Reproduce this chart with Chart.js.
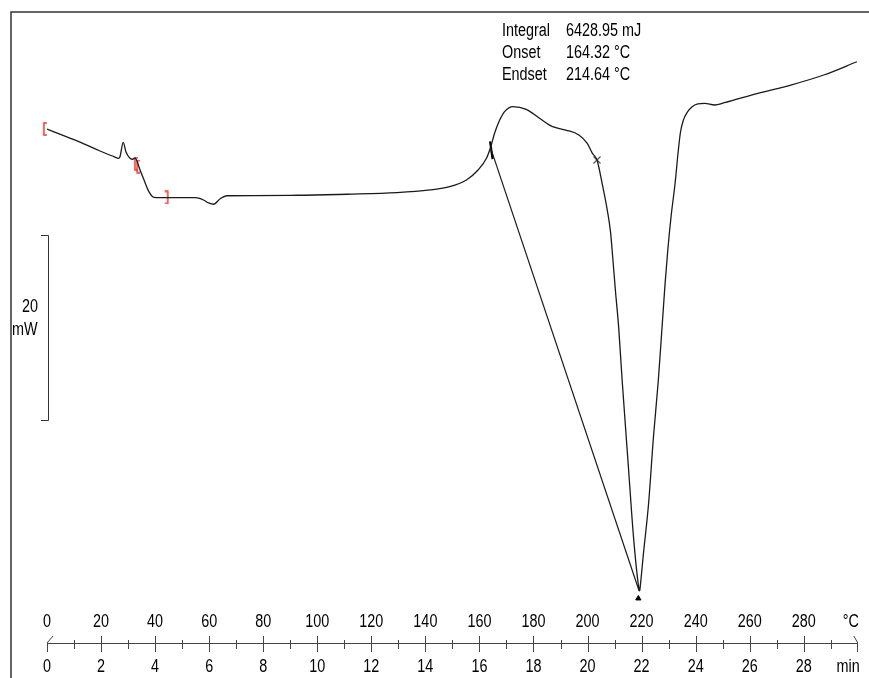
<!DOCTYPE html>
<html>
<head>
<meta charset="utf-8">
<script src="https://cdn.jsdelivr.net/npm/chart.js@4/dist/chart.umd.min.js"></script>
<style>
  body { margin: 0; background: #fff; }
  #dsc { display: block; }
</style>
</head>
<body>
<canvas id="dsc" width="869" height="678"></canvas>
<script>
// DSC run, heat flow vs time (min), 10 °C/min so temperature = 10 x time
var timeMin = [0.0, 0.71, 1.32, 1.94, 2.42, 2.64, 2.70, 2.82, 2.92, 3.04, 3.16, 3.26, 3.34, 3.40,
  3.59, 3.77, 3.96, 4.39, 5.49, 5.79, 5.98, 6.16, 6.41, 6.65, 9.28, 11.12, 12.95, 14.17,
  14.90, 15.52, 15.95, 16.26, 16.42, 16.56, 16.75, 16.93, 17.24, 17.73, 18.22, 18.71,
  19.20, 19.68, 19.99, 20.18, 20.35, 20.54, 20.73, 20.85, 20.93, 21.03, 21.15, 21.28,
  21.52, 21.70, 21.89, 21.93, 21.95, 22.07, 22.26, 22.44, 22.62, 22.75, 22.87, 22.97,
  23.09, 23.24, 23.36, 23.44, 23.55, 23.70, 23.86, 24.08, 24.34, 24.70, 25.07, 26.30,
  27.52, 28.74, 29.97];
var heatFlow = [-6.61, -7.44, -8.15, -8.95, -9.52, -9.77, -9.59, -8.04, -9.05, -9.66, -9.87, -9.73, -10.13, -10.67,
  -12.10, -13.36, -13.97, -14.01, -14.01, -14.26, -14.58, -14.72, -14.12, -13.80, -13.75, -13.64, -13.47, -13.18,
  -12.83, -12.10, -11.03, -9.77, -8.52, -7.07, -5.64, -4.74, -4.20, -4.49, -5.45, -6.36,
  -6.72, -7.25, -8.15, -9.23, -9.95, -12.46, -15.34, -17.69, -20.37, -23.96, -27.91, -33.66,
  -43.35, -50.54, -55.93, -56.39, -55.93, -52.33, -46.94, -39.77, -33.66, -28.27, -23.24, -19.65,
  -16.06, -12.46, -8.87, -6.93, -5.63, -4.77, -4.23, -3.90, -3.84, -4.02, -3.77, -2.76,
  -1.87, -0.79, 0.64];

// integration baseline from onset to peak
var baselineTime = [16.42, 21.91];
var baselineFlow = [-8.7, -56.4];

// evaluation limit marks
var limitTime = [-0.08, 3.29, 3.37, 4.43];
var limitFlow = [-6.61, -10.35, -10.65, -13.99];

var onsetPoint = { x: 16.44, y: -8.9 };
var endsetPoint = { x: 20.35, y: -9.95 };
var peakPoint = { x: 21.88, y: -57.2 };

var minTicks = [0, 2, 4, 6, 8, 10, 12, 14, 16, 18, 20, 22, 24, 26, 28];
var tempTicks = ['0', '20', '40', '60', '80', '100', '120', '140', '160', '180', '200', '220', '240', '260', '280'];

var resultLabels = ['Integral', 'Onset', 'Endset'];
var resultValues = ['6428.95 mJ', '164.32 °C', '214.64 °C'];

var scaleBarFrom = -18;
var scaleBarTo = -38; // 20 mW

var FONT = "18px 'Liberation Sans', Arial, sans-serif";

function pairs(xs, ys) {
  var out = [];
  for (var i = 0; i < xs.length; i++) out.push({ x: xs[i], y: ys[i] });
  return out;
}

// narrow lettering like the instrument software
function label(ctx, str, x, y, align) {
  ctx.save();
  ctx.translate(x, y);
  ctx.scale(0.8, 1);
  ctx.textAlign = align || 'left';
  ctx.fillText(str, 0, 0);
  ctx.restore();
}

// small red bracket used for the limit marks
function bracket(flip) {
  var c = document.createElement('canvas');
  c.width = 6; c.height = 14;
  var g = c.getContext('2d');
  g.strokeStyle = '#f03a30';
  g.lineWidth = 1.5;
  g.beginPath();
  if (flip) {
    g.moveTo(1, 1); g.lineTo(4, 1); g.lineTo(4, 13); g.lineTo(1, 13);
  } else {
    g.moveTo(5, 1); g.lineTo(2, 1); g.lineTo(2, 13); g.lineTo(5, 13);
  }
  g.stroke();
  return c;
}
var bracketOpen = bracket(false);
var bracketClose = bracket(true);

var dscDecor = {
  id: 'dscDecor',
  afterDraw: function (chart) {
    var ctx = chart.ctx;
    var x = chart.scales.x, y = chart.scales.y;
    var axisY = chart.chartArea.bottom;
    ctx.save();

    // outer frame (left and top)
    ctx.strokeStyle = '#333';
    ctx.lineWidth = 1.5;
    ctx.beginPath();
    ctx.moveTo(11, 678);
    ctx.lineTo(11, 12);
    ctx.lineTo(869, 12);
    ctx.stroke();

    // time / temperature axis
    ctx.strokeStyle = '#444';
    ctx.lineWidth = 1;
    var x0 = x.getPixelForValue(0), x30 = x.getPixelForValue(30);
    ctx.beginPath();
    ctx.moveTo(x0, axisY + 0.5);
    ctx.lineTo(x30, axisY + 0.5);
    for (var m = 1; m < 30; m++) {
      var px = Math.round(x.getPixelForValue(m)) + 0.5;
      if (m % 2 === 0) {
        ctx.moveTo(px, axisY - 7);
        ctx.lineTo(px, axisY + 9);
      } else {
        ctx.moveTo(px, axisY - 3);
        ctx.lineTo(px, axisY + 6);
      }
    }
    // end marks
    ctx.moveTo(Math.round(x0) + 0.5, axisY);
    ctx.lineTo(Math.round(x0) + 0.5, axisY + 9);
    ctx.moveTo(x0, axisY);
    ctx.lineTo(x0 + 6, axisY - 7);
    ctx.moveTo(Math.round(x30) - 0.5, axisY);
    ctx.lineTo(Math.round(x30) - 0.5, axisY + 9);
    ctx.moveTo(x30, axisY);
    ctx.lineTo(x30 - 4, axisY - 7);
    ctx.stroke();

    ctx.fillStyle = '#000';
    ctx.font = FONT;
    ctx.textBaseline = 'middle';
    for (var i = 0; i < minTicks.length; i++) {
      var tx = x.getPixelForValue(minTicks[i]);
      label(ctx, tempTicks[i], tx, axisY - 21, 'center');
      label(ctx, String(minTicks[i]), tx, axisY + 24, 'center');
    }
    label(ctx, '°C', x30 + 1, axisY - 21, 'right');
    label(ctx, 'min', x30 + 2, axisY + 24, 'right');

    // 20 mW scale bar
    var yTop = Math.round(y.getPixelForValue(scaleBarFrom)) + 0.5;
    var yBot = Math.round(y.getPixelForValue(scaleBarTo)) + 0.5;
    ctx.strokeStyle = '#333';
    ctx.beginPath();
    ctx.moveTo(41, yTop);
    ctx.lineTo(48.5, yTop);
    ctx.lineTo(48.5, yBot);
    ctx.lineTo(41, yBot);
    ctx.stroke();
    label(ctx, '20', 30, yTop + 72, 'center');
    label(ctx, 'mW', 12, yTop + 95, 'left');

    // peak evaluation results
    for (var r = 0; r < resultLabels.length; r++) {
      label(ctx, resultLabels[r], 502, 31 + r * 22, 'left');
      label(ctx, resultValues[r], 566, 31 + r * 22, 'left');
    }
    ctx.restore();
  }
};

var ctx = document.getElementById('dsc');
var dscChart = new Chart(ctx, {
  type: 'line',
  data: {
    datasets: [{
      label: 'Heat flow',
      data: pairs(timeMin, heatFlow),
      borderColor: '#1a1a1a',
      borderWidth: 1.3,
      pointRadius: 0,
      cubicInterpolationMode: 'monotone'
    }, {
      label: 'Baseline',
      data: pairs(baselineTime, baselineFlow),
      borderColor: '#1a1a1a',
      borderWidth: 1.2,
      pointRadius: 0
    }, {
      label: 'Limits',
      data: pairs(limitTime, limitFlow),
      showLine: false,
      pointStyle: [bracketOpen, bracketOpen, bracketOpen, bracketClose],
      pointRadius: 7,
      clip: false
    }, {
      label: 'Onset',
      data: [onsetPoint],
      showLine: false,
      pointStyle: 'line',
      rotation: 82,
      pointRadius: 9,
      borderColor: '#000',
      borderWidth: 2.2
    }, {
      label: 'Endset',
      data: [endsetPoint],
      showLine: false,
      pointStyle: 'crossRot',
      pointRadius: 5,
      borderColor: '#555',
      borderWidth: 1.2
    }, {
      label: 'Peak',
      data: [peakPoint],
      showLine: false,
      pointStyle: 'triangle',
      pointRadius: 3,
      backgroundColor: '#000',
      borderColor: '#000',
      borderWidth: 1
    }]
  },
  options: {
    responsive: false,
    animation: false,
    layout: { padding: { left: 47, right: 5, top: 12, bottom: 35 } },
    scales: {
      x: { type: 'linear', min: 0, max: 30, display: false },
      y: { type: 'linear', min: -62, max: 6, display: false }
    },
    plugins: {
      legend: { display: false },
      tooltip: { enabled: false }
    }
  },
  plugins: [dscDecor]
});
</script>
</body>
</html>
